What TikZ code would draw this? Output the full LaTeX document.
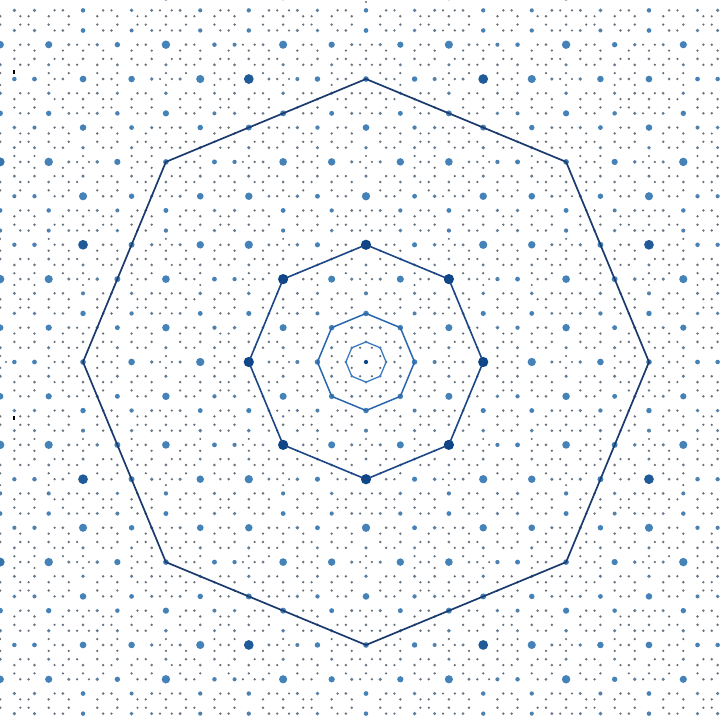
\documentclass[tikz,border=0pt]{standalone}
\usepackage{tikz}
\usetikzlibrary{positioning}
\definecolor{dotgrey}{HTML}{7A8591}
\definecolor{dotdark}{HTML}{525960}
\definecolor{dotblue}{HTML}{4582B8}
\definecolor{dotnavy}{HTML}{0B4788}
\definecolor{octinner}{HTML}{3A7BC2}
\definecolor{octmid}{HTML}{2A66AD}
\definecolor{octouter}{HTML}{1C4685}
\definecolor{octfar}{HTML}{1B3A6E}

\begin{document}
\begin{tikzpicture}[x=1pt,y=1pt,
  octline/.style={line join=round, line cap=round},
  tick/.style={fill=black}]
  \useasboundingbox (0,0) rectangle (725,715);
  \clip (0,0) rectangle (725,715);
  \def\unitlen{20.11}
  \def\winsq{3.61}
  % one-dimensional projected coordinates p+q/sqrt2 with their internal part
  \gdef\ptlist{}
  \foreach \q in {-15,...,15}{
    \pgfmathtruncatemacro\pmid{round(\q/sqrt(2))}
    \pgfmathtruncatemacro\qpar{mod(abs(\q),2)}
    \foreach \dp in {-2,...,2}{
      \pgfmathsetmacro\xphys{\pmid+(\dp)+\q/sqrt(2)}
      \pgfmathsetmacro\xstar{\pmid+(\dp)-\q/sqrt(2)}
      \pgfmathtruncatemacro\keep{(abs(\xstar)<1.9)&&(abs(\xphys)<18.4)}
      \ifnum\keep=1
        \ifx\ptlist\empty\xdef\ptlist{\xphys/\xstar/\qpar}\else\xdef\ptlist{\ptlist,\xphys/\xstar/\qpar}\fi
      \fi
    }
  }
  \begin{scope}[shift={(366,353)}]
    % dots of the octagonal module, sized by their internal coordinate
    \foreach \xa/\sa/\pa in \ptlist{
      \foreach \ya/\sb/\pb in \ptlist{
        \ifnum\pa=\pb
          \pgfmathparse{\sa*\sa+\sb*\sb}
          \ifdim\pgfmathresult pt<\winsq pt
            \let\kk\pgfmathresult
            \pgfmathsetmacro\tk{sqrt(\kk)}
            \pgfmathsetmacro\uk{\tk/0.2}
            \pgfmathsetmacro\gk{\uk*\uk*exp(max(2-2*\uk,-9))}
            \pgfmathsetmacro\hk{exp(-min((ln(max(\tk,0.001)/0.172)/0.12)^2,9))}
            \pgfmathsetmacro\mk{exp(-min((\tk/0.8)^4,9))}
            \pgfmathsetmacro\ek{100*exp(-min(\kk/0.0025,9))}
            \pgfmathsetmacro\ca{min(100,55*\mk+150*\gk+\ek)}
            \pgfmathsetmacro\cb{min(100,100*\hk+\ek)}
            \pgfmathsetmacro\cg{min(60,\tk*30)}
            \pgfmathsetmacro\rk{1.75-0.3*\tk+0.4*\mk+2.2*\gk*sqrt(\gk)+0.9*\hk}
            \colorlet{gshade}{dotdark!\cg!dotgrey}
            \fill[dotnavy!\cb!dotblue!\ca!gshade] (\xa*\unitlen,\ya*\unitlen) circle (\rk pt);
          \fi
        \fi
      }
    }
    % nested octagons
    \foreach \rr/\cc/\ww in {20.11/octinner/1.3, 48.55/octmid/1.5, 117.2/octouter/1.6, 283/octfar/1.7}{
      \draw[octline, color=\cc, line width=\ww pt] (0:\rr) -- (45:\rr) -- (90:\rr) -- (135:\rr)
        -- (180:\rr) -- (225:\rr) -- (270:\rr) -- (315:\rr) -- cycle;
    }
  \end{scope}
  \fill[tick] (13.3,640.5) rectangle (14.8,645);
  \fill[tick] (13.3,294.5) rectangle (14.8,299);
\end{tikzpicture}
\end{document}
